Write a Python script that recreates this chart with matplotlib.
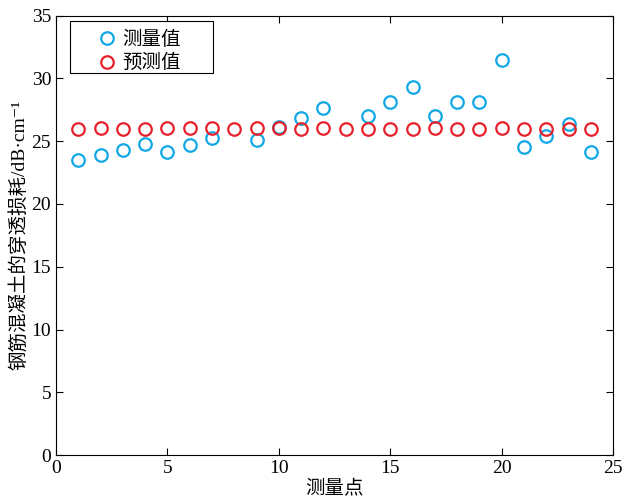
import matplotlib
matplotlib.use("Agg")
import matplotlib.pyplot as plt
from matplotlib.patches import Rectangle

x_meas = [1, 2, 3, 4, 5, 6, 7, 9, 10, 11, 12, 14, 15, 16, 17, 18, 19, 20, 21, 22, 23, 24]
y_meas = [23.47, 23.87, 24.26, 24.74, 24.10, 24.68, 25.24, 25.06, 26.11, 26.83, 27.65,
          26.98, 28.1, 29.32, 27.01, 28.1, 28.1, 31.43, 24.56, 25.45, 26.38, 24.13]
x_pred = list(range(1, 25))
y_pred = [26.0, 26.05, 25.98, 25.98, 26.05, 26.03, 26.03, 25.95, 26.05, 26.05, 25.95, 26.05,
          26.0, 25.98, 25.98, 26.0, 26.05, 25.96, 26.0, 26.03, 25.98, 25.98, 25.96, 25.96]

fam = ['Liberation Serif', 'Noto Sans CJK SC', 'DejaVu Serif']
plt.rcParams['font.family'] = fam

fig = plt.figure(figsize=(6.31, 5.04), dpi=100)
ax = fig.add_axes([0.0887, 0.097, 0.883, 0.872])

ax.plot(x_meas, y_meas, 'o', mfc='none', mec='#11A8E6', mew=1.6, ms=9, label='测量值')
ax.plot(x_pred, y_pred, 'o', mfc='none', mec='#E8202A', mew=1.6, ms=9, label='预测值')

ax.set_xlim(0, 25)
ax.set_ylim(0, 35)
ax.set_xticks([0, 5, 10, 15, 20, 25])
ax.set_yticks([0, 5, 10, 15, 20, 25, 30, 35])
ax.tick_params(direction='in', top=True, right=True, labelsize=14, length=5, width=0.8)
for s in ax.spines.values():
    s.set_linewidth(0.8)

ax.set_xlabel('测量点', fontsize=14, labelpad=2)
ax.set_ylabel('钢筋混凝土的穿透损耗/dB·cm⁻¹', fontsize=14, labelpad=2)

leg = ax.legend(loc='upper left', bbox_to_anchor=(0.0736, 0.966), fontsize=14, frameon=False,
                borderpad=0, handlelength=1.0, handletextpad=0.3, labelspacing=0.28,
                borderaxespad=0)
ax.add_patch(Rectangle((0.0251, 0.8696), 0.2562, 0.119, transform=ax.transAxes,
                       fill=True, facecolor='white', edgecolor='black', lw=0.8, zorder=4))
leg.set_zorder(5)

fig.savefig('out.png', dpi=100)
